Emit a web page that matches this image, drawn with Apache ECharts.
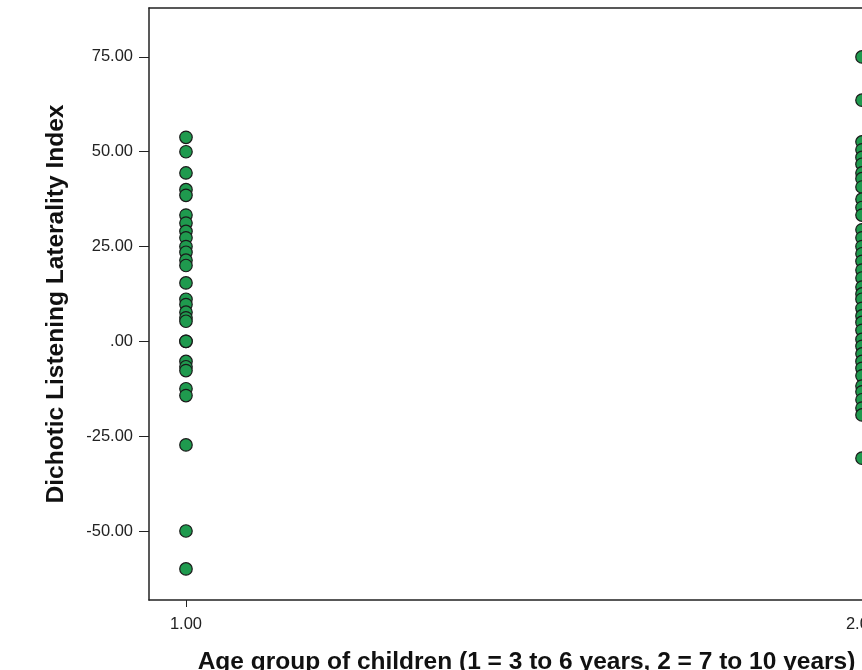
<!DOCTYPE html>
<html>
<head>
<meta charset="utf-8">
<script src="https://cdn.jsdelivr.net/npm/echarts@6.0.0/dist/echarts.min.js"></script>
<style>
  html, body { margin: 0; padding: 0; background: #fff; }
  #chart { width: 862px; height: 670px; }
</style>
</head>
<body>
<div id="chart"></div>
<script>
// age group 1 (3 to 6 years)
const group1 = [53.8, 50, 44.4, 40, 38.5, 33.3, 31.2, 29, 27.3, 25, 23.5, 21.4, 20, 15.4,
  11.1, 9.7, 7.7, 6.2, 5.3, 0, 0, -5.3, -6.7, -7.7, -12.5, -14.3, -27.3, -50, -60];
// age group 2 (7 to 10 years)
const group2 = [75, 63.6, 52.6, 50.5, 48.5, 46.7, 44.4, 42.9, 40.7, 37.5, 35.3, 33.3, 29.4,
  27.3, 25, 23.1, 21.1, 18.8, 16.7, 14.3, 12.5, 11.1, 8.7, 6.7, 5, 2.9, 0.5, -1.3, -3.3,
  -5.3, -7.1, -9.1, -11.8, -13.3, -15.4, -17.6, -19.4, -30.8];
const yTicks = [-50, -25, 0, 25, 50, 75];
const xTicks = [1, 2];

const chart = echarts.init(document.getElementById('chart'));

function fmt(v) {
  const s = Number(v).toFixed(2);
  return s.replace(/^0\./, '.').replace(/^-0\./, '-.');
}

const font = 'Liberation Sans, Arial, sans-serif';
const dotStyle = { color: '#1f9a4e', borderColor: '#1a1a1a', borderWidth: 1.2, opacity: 1 };

const option = {
  animation: false,
  backgroundColor: '#fff',
  title: {
    text: 'Laterality Index by Age group',
    left: 190,
    top: -29,
    textStyle: { fontFamily: font, fontSize: 24, fontWeight: 'bold', color: '#444' }
  },
  grid: {
    left: 149,
    top: 8,
    right: 0,
    bottom: 70,
    outerBoundsMode: 'none',
    containLabel: false
  },
  xAxis: [
    {
      type: 'value',
      min: 0.9453,
      max: 2,
      name: 'Age group of children (1 = 3 to 6 years, 2 = 7 to 10 years)',
      nameLocation: 'middle',
      nameGap: 50,
      nameTextStyle: { fontFamily: font, fontSize: 24.5, fontWeight: 'bold', color: '#111', padding: [0, 0, 0, 42] },
      axisLine: { show: true, onZero: false, lineStyle: { color: '#222', width: 1.5 } },
      axisTick: { show: true, customValues: xTicks, length: 7, lineStyle: { color: '#222' } },
      axisLabel: { customValues: xTicks, margin: 16, formatter: fmt, fontFamily: font, fontSize: 16.5, color: '#222' },
      splitLine: { show: false }
    },
    {
      // top frame line only
      type: 'value',
      position: 'top',
      min: 0.9453,
      max: 2,
      axisLine: { show: true, onZero: false, lineStyle: { color: '#222', width: 1.5 } },
      axisTick: { show: false },
      axisLabel: { show: false },
      splitLine: { show: false }
    }
  ],
  yAxis: {
    type: 'value',
    min: -68.2,
    max: 87.9,
    name: 'Dichotic Listening Laterality Index',
    nameLocation: 'middle',
    nameGap: 80,
    nameTextStyle: { fontFamily: font, fontSize: 24.5, fontWeight: 'bold', color: '#111' },
    axisLine: { show: true, onZero: false, lineStyle: { color: '#222', width: 1.5 } },
    axisTick: { show: true, customValues: yTicks, length: 10, lineStyle: { color: '#222' } },
    axisLabel: { customValues: yTicks, margin: 16, formatter: fmt, fontFamily: font, fontSize: 16.5, color: '#222' },
    splitLine: { show: false }
  },
  series: [
    {
      type: 'scatter',
      symbol: 'circle',
      symbolSize: 12.5,
      clip: false,
      data: group1.map(v => [1, v]),
      itemStyle: dotStyle
    },
    {
      type: 'scatter',
      symbol: 'circle',
      symbolSize: 12.5,
      clip: false,
      data: group2.map(v => [2, v]),
      itemStyle: dotStyle
    }
  ]
};

chart.setOption(option);
</script>
</body>
</html>
